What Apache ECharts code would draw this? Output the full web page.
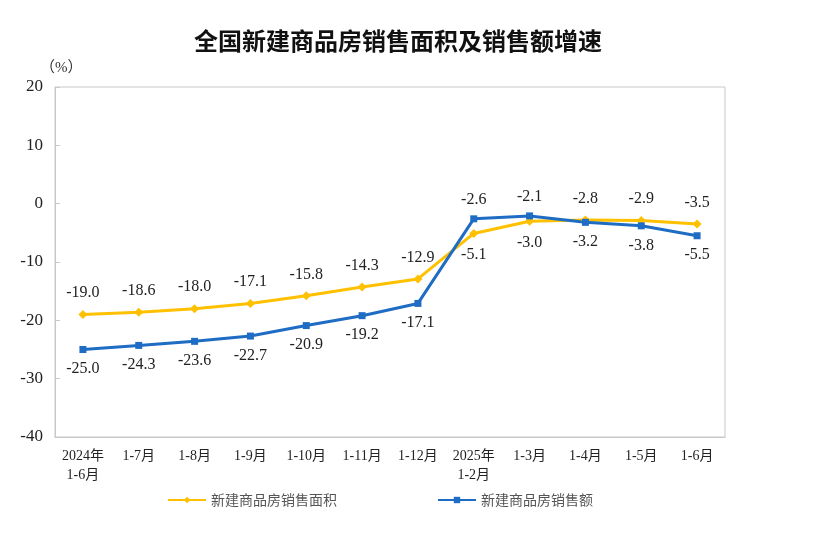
<!DOCTYPE html>
<html><head><meta charset="utf-8">
<script src="https://cdn.jsdelivr.net/npm/echarts@6/dist/echarts.min.js"></script>
<style>html,body{margin:0;padding:0;background:#fff}#c{width:840px;height:534px}</style>
</head><body><div id="c"></div>
<script>
var categories = ['2024年\n1-6月','1-7月','1-8月','1-9月','1-10月','1-11月','1-12月','2025年\n1-2月','1-3月','1-4月','1-5月','1-6月'];
var areaGrowth = [-19.0,-18.6,-18.0,-17.1,-15.8,-14.3,-12.9,-5.1,-3.0,-2.8,-2.9,-3.5];
var salesGrowth = [-25.0,-24.3,-23.6,-22.7,-20.9,-19.2,-17.1,-2.6,-2.1,-3.2,-3.8,-5.5];
var yTicks = [-40,-30,-20,-10,0,10,20];

var serif = '"Liberation Serif","Times New Roman","Noto Sans CJK SC",serif';
function mk(vals, other){
  return vals.map(function(v,i){
    var up = v >= other[i];
    return {value:v, label:{position: up ? 'top' : 'bottom'}};
  });
}
var chart = echarts.init(document.getElementById('c'));
chart.setOption({
  animation:false,
  title:{text:'全国新建商品房销售面积及销售额增速',left:393,textAlign:'center',top:24,
    textStyle:{fontFamily:'"Noto Sans CJK SC",sans-serif',fontSize:24,fontWeight:'bold',color:'#111'}},
  grid:{left:55,right:115,top:87,bottom:97,show:true,borderColor:'#c8c8c8',borderWidth:1},
  graphic:[{type:'text',left:40,top:61,style:{text:'（%）',font:'15px '+serif,fill:'#333'}}],
  xAxis:{type:'category',data:categories,boundaryGap:true,
    axisLine:{onZero:false,lineStyle:{color:'#c8c8c8'}},
    axisTick:{inside:true,length:5,lineStyle:{color:'#c8c8c8'}},
    axisLabel:{fontFamily:serif,fontSize:14,color:'#222',margin:10,lineHeight:19,interval:0}},
  yAxis:{type:'value',min:yTicks[0],max:yTicks[yTicks.length-1],interval:10,
    axisLine:{show:true,lineStyle:{color:'#c8c8c8'}},
    axisTick:{show:true,inside:true,length:5,lineStyle:{color:'#c8c8c8'}},
    splitLine:{show:false},
    axisLabel:{fontFamily:serif,fontSize:17,color:'#222',margin:12}},
  legend:{bottom:22,left:162,itemGap:100,itemWidth:38,itemHeight:8,
    textStyle:{fontFamily:'"Noto Sans CJK SC",sans-serif',fontSize:14,color:'#555'},
    data:['新建商品房销售面积','新建商品房销售额']},
  series:[
    {name:'新建商品房销售面积',type:'line',data:mk(areaGrowth,salesGrowth),
     symbol:'diamond',symbolSize:9,color:'#FFC000',lineStyle:{width:3,color:'#FFC000'},
     itemStyle:{color:'#FFC000'},
     label:{show:true,distance:9,fontFamily:serif,fontSize:16,color:'#222',
       formatter:function(p){return p.value.toFixed(1);}}},
    {name:'新建商品房销售额',type:'line',data:mk(salesGrowth,areaGrowth),
     symbol:'rect',symbolSize:7,color:'#1F6CC4',lineStyle:{width:3,color:'#1F6CC4'},
     itemStyle:{color:'#1F6CC4'},
     label:{show:true,distance:8,fontFamily:serif,fontSize:16,color:'#222',
       formatter:function(p){return p.value.toFixed(1);}}}
  ]
});
</script></body></html>
